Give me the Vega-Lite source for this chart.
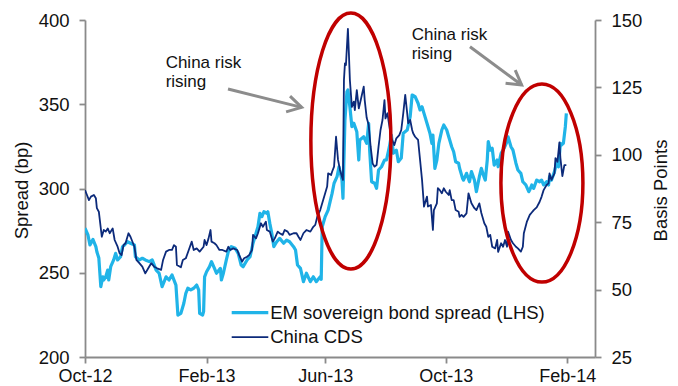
{
  "$schema": "https://vega.github.io/schema/vega-lite/v6.json",
  "width": 510,
  "height": 337,
  "autosize": {"type": "none"},
  "padding": {"left": 85, "top": 20, "right": 83, "bottom": 29},
  "background": "white",
  "config": {
    "font": "Liberation Sans",
    "view": {"stroke": null},
    "axis": {
      "grid": false,
      "domainColor": "#8a8a8a",
      "domainWidth": 1.8,
      "tickColor": "#8a8a8a",
      "tickWidth": 1.8,
      "tickSize": 6,
      "offset": 0,
      "labelColor": "#111111",
      "labelFont": "Liberation Sans",
      "labelFontSize": 18.5,
      "titleColor": "#111111",
      "titleFont": "Liberation Sans",
      "titleFontSize": 18.5,
      "titleFontWeight": "normal",
      "labelOverlap": false,
      "labelFlush": false,
      "labelBound": false
    }
  },
  "datasets": {
    "em": [
      {"date": "2012-10-01", "em": 276.4},
      {"date": "2012-10-04", "em": 272.4},
      {"date": "2012-10-06", "em": 266.5},
      {"date": "2012-10-09", "em": 269.8},
      {"date": "2012-10-12", "em": 265.5},
      {"date": "2012-10-13", "em": 262.5},
      {"date": "2012-10-15", "em": 258.7},
      {"date": "2012-10-17", "em": 241.7},
      {"date": "2012-10-19", "em": 247.6},
      {"date": "2012-10-20", "em": 245.7},
      {"date": "2012-10-22", "em": 247.6},
      {"date": "2012-10-24", "em": 251.6},
      {"date": "2012-10-25", "em": 245.7},
      {"date": "2012-10-27", "em": 253.6},
      {"date": "2012-10-30", "em": 257.6},
      {"date": "2012-11-01", "em": 261.5},
      {"date": "2012-11-03", "em": 257.6},
      {"date": "2012-11-06", "em": 259.5},
      {"date": "2012-11-08", "em": 265.5},
      {"date": "2012-11-10", "em": 266.5},
      {"date": "2012-11-13", "em": 268.4},
      {"date": "2012-11-16", "em": 267.5},
      {"date": "2012-11-20", "em": 266.5},
      {"date": "2012-11-21", "em": 259.5},
      {"date": "2012-11-25", "em": 257.6},
      {"date": "2012-11-28", "em": 258.6},
      {"date": "2012-12-01", "em": 257.6},
      {"date": "2012-12-05", "em": 256.6},
      {"date": "2012-12-08", "em": 257.6},
      {"date": "2012-12-12", "em": 251.6},
      {"date": "2012-12-15", "em": 249.7},
      {"date": "2012-12-18", "em": 241.7},
      {"date": "2012-12-22", "em": 247.6},
      {"date": "2012-12-25", "em": 245.7},
      {"date": "2012-12-28", "em": 248.7},
      {"date": "2013-01-01", "em": 242.7},
      {"date": "2013-01-03", "em": 224.9},
      {"date": "2013-01-06", "em": 225.9},
      {"date": "2013-01-09", "em": 231.9},
      {"date": "2013-01-11", "em": 237.8},
      {"date": "2013-01-13", "em": 240.8},
      {"date": "2013-01-16", "em": 239.8},
      {"date": "2013-01-19", "em": 240.8},
      {"date": "2013-01-22", "em": 242.7},
      {"date": "2013-01-24", "em": 239.8},
      {"date": "2013-01-25", "em": 225.9},
      {"date": "2013-01-28", "em": 224.9},
      {"date": "2013-01-29", "em": 226.9},
      {"date": "2013-01-30", "em": 247.6},
      {"date": "2013-02-01", "em": 250.6},
      {"date": "2013-02-04", "em": 253.6},
      {"date": "2013-02-06", "em": 256.6},
      {"date": "2013-02-09", "em": 252.6},
      {"date": "2013-02-11", "em": 249.7},
      {"date": "2013-02-15", "em": 252.6},
      {"date": "2013-02-16", "em": 245.7},
      {"date": "2013-02-18", "em": 249.7},
      {"date": "2013-02-21", "em": 257.6},
      {"date": "2013-02-23", "em": 262.5},
      {"date": "2013-02-26", "em": 265.5},
      {"date": "2013-03-02", "em": 264.5},
      {"date": "2013-03-05", "em": 261.5},
      {"date": "2013-03-08", "em": 254.6},
      {"date": "2013-03-10", "em": 253.6},
      {"date": "2013-03-14", "em": 257.6},
      {"date": "2013-03-17", "em": 259.5},
      {"date": "2013-03-20", "em": 267.5},
      {"date": "2013-03-24", "em": 275.4},
      {"date": "2013-03-25", "em": 277.3},
      {"date": "2013-03-27", "em": 285.3},
      {"date": "2013-03-29", "em": 283.3},
      {"date": "2013-03-31", "em": 286.2},
      {"date": "2013-04-03", "em": 285.3},
      {"date": "2013-04-04", "em": 286.2},
      {"date": "2013-04-06", "em": 279.3},
      {"date": "2013-04-08", "em": 273.4},
      {"date": "2013-04-10", "em": 265.5},
      {"date": "2013-04-13", "em": 268.4},
      {"date": "2013-04-16", "em": 270.4},
      {"date": "2013-04-20", "em": 267.5},
      {"date": "2013-04-23", "em": 269.4},
      {"date": "2013-04-26", "em": 268.4},
      {"date": "2013-04-30", "em": 265.5},
      {"date": "2013-05-02", "em": 263.5},
      {"date": "2013-05-04", "em": 254.6},
      {"date": "2013-05-07", "em": 252.6},
      {"date": "2013-05-10", "em": 244.7},
      {"date": "2013-05-13", "em": 249.7},
      {"date": "2013-05-17", "em": 244.7},
      {"date": "2013-05-20", "em": 247.6},
      {"date": "2013-05-23", "em": 244.7},
      {"date": "2013-05-27", "em": 247.6},
      {"date": "2013-05-28", "em": 246.1},
      {"date": "2013-05-29", "em": 277.3},
      {"date": "2013-06-01", "em": 283.3},
      {"date": "2013-06-04", "em": 287.2},
      {"date": "2013-06-06", "em": 292.2},
      {"date": "2013-06-08", "em": 297.1},
      {"date": "2013-06-10", "em": 303.1},
      {"date": "2013-06-13", "em": 307.0},
      {"date": "2013-06-15", "em": 312.9},
      {"date": "2013-06-18", "em": 305.0},
      {"date": "2013-06-19", "em": 294.2},
      {"date": "2013-06-21", "em": 340.6},
      {"date": "2013-06-23", "em": 357.4},
      {"date": "2013-06-24", "em": 358.5},
      {"date": "2013-06-26", "em": 348.5},
      {"date": "2013-06-28", "em": 336.7},
      {"date": "2013-06-30", "em": 338.7},
      {"date": "2013-07-03", "em": 333.7},
      {"date": "2013-07-05", "em": 316.9},
      {"date": "2013-07-06", "em": 328.8},
      {"date": "2013-07-10", "em": 330.7},
      {"date": "2013-07-13", "em": 326.8},
      {"date": "2013-07-15", "em": 338.7},
      {"date": "2013-07-16", "em": 322.8},
      {"date": "2013-07-18", "em": 304.0},
      {"date": "2013-07-21", "em": 303.1},
      {"date": "2013-07-23", "em": 300.1},
      {"date": "2013-07-25", "em": 311.0},
      {"date": "2013-07-28", "em": 312.9},
      {"date": "2013-07-31", "em": 316.9},
      {"date": "2013-08-02", "em": 316.9},
      {"date": "2013-08-05", "em": 324.8},
      {"date": "2013-08-07", "em": 331.7},
      {"date": "2013-08-09", "em": 320.9},
      {"date": "2013-08-12", "em": 322.8},
      {"date": "2013-08-14", "em": 315.9},
      {"date": "2013-08-17", "em": 318.1},
      {"date": "2013-08-19", "em": 332.8},
      {"date": "2013-08-23", "em": 334.7},
      {"date": "2013-08-26", "em": 342.6},
      {"date": "2013-08-28", "em": 355.5},
      {"date": "2013-08-31", "em": 354.5},
      {"date": "2013-09-03", "em": 350.6},
      {"date": "2013-09-05", "em": 346.6},
      {"date": "2013-09-07", "em": 348.5},
      {"date": "2013-09-09", "em": 344.6},
      {"date": "2013-09-12", "em": 338.7},
      {"date": "2013-09-15", "em": 332.8},
      {"date": "2013-09-17", "em": 326.8},
      {"date": "2013-09-18", "em": 331.7},
      {"date": "2013-09-20", "em": 312.0},
      {"date": "2013-09-22", "em": 316.9},
      {"date": "2013-09-24", "em": 326.8},
      {"date": "2013-09-27", "em": 334.7},
      {"date": "2013-09-29", "em": 337.7},
      {"date": "2013-10-02", "em": 334.7},
      {"date": "2013-10-04", "em": 330.7},
      {"date": "2013-10-05", "em": 328.8},
      {"date": "2013-10-07", "em": 324.8},
      {"date": "2013-10-09", "em": 321.8},
      {"date": "2013-10-11", "em": 315.9},
      {"date": "2013-10-14", "em": 315.0},
      {"date": "2013-10-15", "em": 312.0},
      {"date": "2013-10-18", "em": 306.0},
      {"date": "2013-10-19", "em": 305.0},
      {"date": "2013-10-22", "em": 309.0},
      {"date": "2013-10-25", "em": 304.0},
      {"date": "2013-10-27", "em": 310.0},
      {"date": "2013-10-30", "em": 305.0},
      {"date": "2013-11-01", "em": 298.1},
      {"date": "2013-11-04", "em": 307.0},
      {"date": "2013-11-06", "em": 312.0},
      {"date": "2013-11-08", "em": 308.0},
      {"date": "2013-11-10", "em": 305.0},
      {"date": "2013-11-12", "em": 316.9},
      {"date": "2013-11-13", "em": 327.8},
      {"date": "2013-11-15", "em": 322.8},
      {"date": "2013-11-17", "em": 323.9},
      {"date": "2013-11-19", "em": 313.9},
      {"date": "2013-11-22", "em": 316.9},
      {"date": "2013-11-23", "em": 312.9},
      {"date": "2013-11-26", "em": 320.9},
      {"date": "2013-11-29", "em": 323.9},
      {"date": "2013-12-02", "em": 327.8},
      {"date": "2013-12-03", "em": 330.7},
      {"date": "2013-12-06", "em": 324.8},
      {"date": "2013-12-08", "em": 322.8},
      {"date": "2013-12-11", "em": 315.0},
      {"date": "2013-12-13", "em": 311.0},
      {"date": "2013-12-16", "em": 309.0},
      {"date": "2013-12-18", "em": 304.0},
      {"date": "2013-12-21", "em": 302.1},
      {"date": "2013-12-24", "em": 298.1},
      {"date": "2013-12-25", "em": 299.1},
      {"date": "2013-12-27", "em": 302.1},
      {"date": "2013-12-29", "em": 300.1},
      {"date": "2014-01-01", "em": 305.0},
      {"date": "2014-01-04", "em": 304.0},
      {"date": "2014-01-06", "em": 305.0},
      {"date": "2014-01-08", "em": 302.1},
      {"date": "2014-01-11", "em": 304.0},
      {"date": "2014-01-13", "em": 302.1},
      {"date": "2014-01-14", "em": 307.0},
      {"date": "2014-01-16", "em": 305.0},
      {"date": "2014-01-19", "em": 310.0},
      {"date": "2014-01-21", "em": 315.0},
      {"date": "2014-01-23", "em": 312.9},
      {"date": "2014-01-25", "em": 326.8},
      {"date": "2014-01-26", "em": 325.8},
      {"date": "2014-01-28", "em": 326.8},
      {"date": "2014-01-30", "em": 336.7},
      {"date": "2014-01-31", "em": 344.6}
    ],
    "cds": [
      {"date": "2012-10-01", "cds": 86.9},
      {"date": "2012-10-03", "cds": 85.1},
      {"date": "2012-10-05", "cds": 83.2},
      {"date": "2012-10-07", "cds": 84.5},
      {"date": "2012-10-10", "cds": 85.1},
      {"date": "2012-10-12", "cds": 83.9},
      {"date": "2012-10-13", "cds": 80.2},
      {"date": "2012-10-15", "cds": 78.9},
      {"date": "2012-10-18", "cds": 69.6},
      {"date": "2012-10-20", "cds": 72.1},
      {"date": "2012-10-22", "cds": 71.5},
      {"date": "2012-10-24", "cds": 72.7},
      {"date": "2012-10-26", "cds": 70.9},
      {"date": "2012-10-29", "cds": 72.7},
      {"date": "2012-10-31", "cds": 68.4},
      {"date": "2012-11-03", "cds": 65.9},
      {"date": "2012-11-05", "cds": 63.5},
      {"date": "2012-11-07", "cds": 62.8},
      {"date": "2012-11-09", "cds": 66.5},
      {"date": "2012-11-11", "cds": 67.2},
      {"date": "2012-11-14", "cds": 70.9},
      {"date": "2012-11-16", "cds": 69.6},
      {"date": "2012-11-20", "cds": 65.9},
      {"date": "2012-11-22", "cds": 61.0},
      {"date": "2012-11-25", "cds": 59.8},
      {"date": "2012-11-28", "cds": 58.5},
      {"date": "2012-12-01", "cds": 56.0},
      {"date": "2012-12-04", "cds": 57.9},
      {"date": "2012-12-07", "cds": 59.8},
      {"date": "2012-12-10", "cds": 58.5},
      {"date": "2012-12-13", "cds": 57.9},
      {"date": "2012-12-17", "cds": 57.3},
      {"date": "2012-12-19", "cds": 61.0},
      {"date": "2012-12-22", "cds": 64.1},
      {"date": "2012-12-25", "cds": 64.7},
      {"date": "2012-12-28", "cds": 64.7},
      {"date": "2012-12-30", "cds": 66.5},
      {"date": "2013-01-01", "cds": 65.9},
      {"date": "2013-01-02", "cds": 59.1},
      {"date": "2013-01-06", "cds": 58.3},
      {"date": "2013-01-08", "cds": 61.0},
      {"date": "2013-01-11", "cds": 61.6},
      {"date": "2013-01-14", "cds": 64.7},
      {"date": "2013-01-17", "cds": 67.8},
      {"date": "2013-01-19", "cds": 64.7},
      {"date": "2013-01-22", "cds": 65.3},
      {"date": "2013-01-25", "cds": 64.1},
      {"date": "2013-01-29", "cds": 65.9},
      {"date": "2013-01-30", "cds": 68.4},
      {"date": "2013-02-01", "cds": 66.5},
      {"date": "2013-02-03", "cds": 69.0},
      {"date": "2013-02-05", "cds": 72.1},
      {"date": "2013-02-06", "cds": 67.8},
      {"date": "2013-02-09", "cds": 67.2},
      {"date": "2013-02-11", "cds": 66.5},
      {"date": "2013-02-14", "cds": 64.7},
      {"date": "2013-02-17", "cds": 64.7},
      {"date": "2013-02-21", "cds": 64.1},
      {"date": "2013-02-23", "cds": 65.9},
      {"date": "2013-02-25", "cds": 64.7},
      {"date": "2013-02-28", "cds": 65.3},
      {"date": "2013-03-04", "cds": 64.7},
      {"date": "2013-03-06", "cds": 62.8},
      {"date": "2013-03-09", "cds": 60.4},
      {"date": "2013-03-11", "cds": 61.6},
      {"date": "2013-03-14", "cds": 62.2},
      {"date": "2013-03-16", "cds": 62.8},
      {"date": "2013-03-19", "cds": 64.7},
      {"date": "2013-03-20", "cds": 70.3},
      {"date": "2013-03-23", "cds": 69.0},
      {"date": "2013-03-25", "cds": 70.9},
      {"date": "2013-03-28", "cds": 74.6},
      {"date": "2013-03-30", "cds": 73.3},
      {"date": "2013-04-02", "cds": 75.2},
      {"date": "2013-04-03", "cds": 72.1},
      {"date": "2013-04-06", "cds": 71.5},
      {"date": "2013-04-09", "cds": 67.8},
      {"date": "2013-04-11", "cds": 69.0},
      {"date": "2013-04-14", "cds": 71.5},
      {"date": "2013-04-16", "cds": 70.9},
      {"date": "2013-04-19", "cds": 70.3},
      {"date": "2013-04-21", "cds": 72.1},
      {"date": "2013-04-24", "cds": 71.5},
      {"date": "2013-04-26", "cds": 70.3},
      {"date": "2013-04-30", "cds": 70.9},
      {"date": "2013-05-03", "cds": 70.9},
      {"date": "2013-05-05", "cds": 69.6},
      {"date": "2013-05-07", "cds": 68.4},
      {"date": "2013-05-10", "cds": 70.9},
      {"date": "2013-05-13", "cds": 72.1},
      {"date": "2013-05-17", "cds": 71.5},
      {"date": "2013-05-20", "cds": 73.3},
      {"date": "2013-05-22", "cds": 74.0},
      {"date": "2013-05-24", "cds": 77.0},
      {"date": "2013-05-27", "cds": 79.5},
      {"date": "2013-05-29", "cds": 82.0},
      {"date": "2013-06-01", "cds": 85.7},
      {"date": "2013-06-03", "cds": 88.2},
      {"date": "2013-06-04", "cds": 93.1},
      {"date": "2013-06-07", "cds": 92.5},
      {"date": "2013-06-08", "cds": 93.7},
      {"date": "2013-06-10", "cds": 95.6},
      {"date": "2013-06-12", "cds": 106.7},
      {"date": "2013-06-14", "cds": 98.1},
      {"date": "2013-06-16", "cds": 94.4},
      {"date": "2013-06-18", "cds": 91.9},
      {"date": "2013-06-19", "cds": 90.7},
      {"date": "2013-06-20", "cds": 127.7},
      {"date": "2013-06-21", "cds": 133.9},
      {"date": "2013-06-22", "cds": 133.3},
      {"date": "2013-06-24", "cds": 146.7},
      {"date": "2013-06-25", "cds": 137.6},
      {"date": "2013-06-26", "cds": 127.7},
      {"date": "2013-06-28", "cds": 117.8},
      {"date": "2013-06-30", "cds": 119.7},
      {"date": "2013-07-01", "cds": 116.6},
      {"date": "2013-07-03", "cds": 124.0},
      {"date": "2013-07-05", "cds": 117.2},
      {"date": "2013-07-07", "cds": 120.3},
      {"date": "2013-07-10", "cds": 125.3},
      {"date": "2013-07-11", "cds": 120.3},
      {"date": "2013-07-13", "cds": 113.7},
      {"date": "2013-07-15", "cds": 111.1},
      {"date": "2013-07-17", "cds": 103.0},
      {"date": "2013-07-19", "cds": 96.8},
      {"date": "2013-07-21", "cds": 95.6},
      {"date": "2013-07-23", "cds": 96.2},
      {"date": "2013-07-25", "cds": 103.0},
      {"date": "2013-07-27", "cds": 109.2},
      {"date": "2013-07-29", "cds": 112.9},
      {"date": "2013-07-31", "cds": 120.3},
      {"date": "2013-08-01", "cds": 113.5},
      {"date": "2013-08-03", "cds": 115.4},
      {"date": "2013-08-06", "cds": 108.0},
      {"date": "2013-08-07", "cds": 106.1},
      {"date": "2013-08-10", "cds": 103.6},
      {"date": "2013-08-12", "cds": 106.1},
      {"date": "2013-08-15", "cds": 107.3},
      {"date": "2013-08-17", "cds": 109.2},
      {"date": "2013-08-19", "cds": 115.4},
      {"date": "2013-08-21", "cds": 122.2},
      {"date": "2013-08-23", "cds": 115.4},
      {"date": "2013-08-24", "cds": 111.7},
      {"date": "2013-08-26", "cds": 112.9},
      {"date": "2013-08-28", "cds": 109.2},
      {"date": "2013-08-29", "cds": 108.0},
      {"date": "2013-08-31", "cds": 106.7},
      {"date": "2013-09-03", "cds": 105.5},
      {"date": "2013-09-05", "cds": 98.1},
      {"date": "2013-09-07", "cds": 90.7},
      {"date": "2013-09-09", "cds": 80.8},
      {"date": "2013-09-12", "cds": 84.5},
      {"date": "2013-09-13", "cds": 80.8},
      {"date": "2013-09-16", "cds": 81.4},
      {"date": "2013-09-18", "cds": 72.1},
      {"date": "2013-09-19", "cds": 79.5},
      {"date": "2013-09-22", "cds": 82.0},
      {"date": "2013-09-23", "cds": 87.6},
      {"date": "2013-09-25", "cds": 86.9},
      {"date": "2013-09-27", "cds": 85.7},
      {"date": "2013-09-29", "cds": 87.6},
      {"date": "2013-10-01", "cds": 86.3},
      {"date": "2013-10-04", "cds": 85.1},
      {"date": "2013-10-05", "cds": 86.9},
      {"date": "2013-10-07", "cds": 83.2},
      {"date": "2013-10-09", "cds": 83.2},
      {"date": "2013-10-11", "cds": 79.5},
      {"date": "2013-10-14", "cds": 78.9},
      {"date": "2013-10-15", "cds": 77.0},
      {"date": "2013-10-17", "cds": 77.7},
      {"date": "2013-10-19", "cds": 77.0},
      {"date": "2013-10-22", "cds": 78.3},
      {"date": "2013-10-24", "cds": 85.7},
      {"date": "2013-10-26", "cds": 83.2},
      {"date": "2013-10-27", "cds": 82.0},
      {"date": "2013-10-30", "cds": 80.2},
      {"date": "2013-11-01", "cds": 79.5},
      {"date": "2013-11-04", "cds": 82.0},
      {"date": "2013-11-06", "cds": 78.4},
      {"date": "2013-11-09", "cds": 74.6},
      {"date": "2013-11-11", "cds": 73.3},
      {"date": "2013-11-13", "cds": 69.6},
      {"date": "2013-11-15", "cds": 70.3},
      {"date": "2013-11-17", "cds": 65.9},
      {"date": "2013-11-20", "cds": 65.3},
      {"date": "2013-11-22", "cds": 68.4},
      {"date": "2013-11-23", "cds": 64.0},
      {"date": "2013-11-26", "cds": 67.2},
      {"date": "2013-11-28", "cds": 65.9},
      {"date": "2013-11-30", "cds": 68.4},
      {"date": "2013-12-02", "cds": 65.9},
      {"date": "2013-12-03", "cds": 71.5},
      {"date": "2013-12-06", "cds": 68.4},
      {"date": "2013-12-08", "cds": 67.2},
      {"date": "2013-12-11", "cds": 65.9},
      {"date": "2013-12-13", "cds": 65.3},
      {"date": "2013-12-16", "cds": 64.1},
      {"date": "2013-12-18", "cds": 65.9},
      {"date": "2013-12-19", "cds": 70.9},
      {"date": "2013-12-22", "cds": 75.1},
      {"date": "2013-12-25", "cds": 77.7},
      {"date": "2013-12-27", "cds": 78.6},
      {"date": "2013-12-29", "cds": 79.5},
      {"date": "2014-01-01", "cds": 80.5},
      {"date": "2014-01-04", "cds": 82.6},
      {"date": "2014-01-06", "cds": 84.5},
      {"date": "2014-01-08", "cds": 86.9},
      {"date": "2014-01-11", "cds": 88.8},
      {"date": "2014-01-13", "cds": 89.4},
      {"date": "2014-01-14", "cds": 93.1},
      {"date": "2014-01-16", "cds": 90.7},
      {"date": "2014-01-19", "cds": 93.1},
      {"date": "2014-01-20", "cds": 98.8},
      {"date": "2014-01-22", "cds": 97.4},
      {"date": "2014-01-24", "cds": 104.6},
      {"date": "2014-01-25", "cds": 98.8},
      {"date": "2014-01-27", "cds": 92.1},
      {"date": "2014-01-29", "cds": 96.2},
      {"date": "2014-01-31", "cds": 96.2}
    ],
    "ellipse1": [{"date": "2013-06-27T00:00:00Z", "cds": 105.1}],
    "ellipse2": [{"date": "2014-01-06T07:00:00Z", "cds": 89.5}],
    "arrows": [
      {"id": 1, "date": "2013-02-22T17:00:00Z", "cds": 124.4, "date2": "2013-05-08T05:00:00Z", "cds2": 117.6},
      {"id": 2, "date": "2013-10-25T12:00:00Z", "cds": 140.1, "date2": "2013-12-16T19:00:00Z", "cds2": 125.9}
    ],
    "notes": [
      {"date": "2012-12-21T14:00:00Z", "cds": 132.1, "label": "China risk\nrising"},
      {"date": "2013-08-27T12:00:00Z", "cds": 142.6, "label": "China risk\nrising"}
    ]
  },
  "layer": [
    {
      "data": {"name": "em"},
      "mark": {"type": "line", "strokeWidth": 3.2, "strokeJoin": "round", "clip": true},
      "encoding": {
        "x": {
          "field": "date",
          "type": "temporal",
          "scale": {
            "type": "utc",
            "nice": false,
            "domain": [
              {"year": 2012, "month": 10, "date": 1, "utc": true},
              {"year": 2014, "month": 3, "date": 1, "utc": true}
            ]
          },
          "axis": {
            "orient": "bottom",
            "title": null,
            "values": [
              {"year": 2012, "month": 10, "date": 1, "utc": true},
              {"year": 2013, "month": 2, "date": 1, "utc": true},
              {"year": 2013, "month": 6, "date": 1, "utc": true},
              {"year": 2013, "month": 10, "date": 1, "utc": true},
              {"year": 2014, "month": 2, "date": 1, "utc": true}
            ],
            "labelExpr": "utcFormat(datum.value, '%b-%y')",
            "labelFontSize": 18,
            "labelPadding": 4
          }
        },
        "y": {
          "field": "em",
          "type": "quantitative",
          "scale": {"domain": [200, 400], "nice": false, "zero": false},
          "axis": {
            "orient": "left",
            "values": [200, 250, 300, 350, 400],
            "title": "Spread (bp)",
            "labelPadding": 10,
            "titleAngle": 270,
            "titleAlign": "center",
            "titleBaseline": "middle",
            "titleX": -64,
            "titleY": 170
          }
        },
        "color": {
          "datum": "EM sovereign bond spread (LHS)",
          "type": "nominal",
          "scale": {
            "domain": ["EM sovereign bond spread (LHS)", "China CDS"],
            "range": ["#20B4E8", "#0C2A7A"]
          },
          "legend": {
            "orient": "none",
            "legendX": 155.75,
            "legendY": 283.45,
            "title": null,
            "direction": "vertical",
            "padding": 0,
            "symbolType": "M -3.66 0 L 3.66 0",
            "symbolSize": 100,
            "symbolStrokeWidth": 3,
            "symbolOffset": 0,
            "labelOffset": 10.95,
            "rowPadding": 5.5,
            "labelFontSize": 18.5,
            "labelFont": "Liberation Sans",
            "labelColor": "#111111",
            "labelLimit": 400,
            "labelBaseline": "middle",
            "encode": {
              "symbols": {
                "update": {
                  "strokeWidth": {"signal": "datum.value === 'China CDS' ? 1.8 : 3.2"}
                }
              }
            }
          }
        }
      }
    },
    {
      "layer": [
        {
          "data": {"name": "cds"},
          "mark": {"type": "line", "strokeWidth": 1.8, "strokeJoin": "round", "clip": true},
          "encoding": {
            "x": {"field": "date", "type": "temporal"},
            "y": {
              "field": "cds",
              "type": "quantitative",
              "scale": {"domain": [25, 150], "nice": false, "zero": false},
              "axis": {
                "orient": "right",
                "values": [25, 50, 75, 100, 125, 150],
                "title": "Basis Points",
                "labelPadding": 10,
                "titleAngle": 270,
                "titleAlign": "center",
                "titleBaseline": "middle",
                "titleX": 65,
                "titleY": 170
              }
            },
            "color": {"datum": "China CDS", "type": "nominal"}
          }
        },
        {
          "data": {"name": "ellipse1"},
          "mark": {
            "type": "point",
            "shape": "M 0.3125 0 C 0.3125 0.5523 0.1726 1 0 1 C -0.1726 1 -0.3125 0.5523 -0.3125 0 C -0.3125 -0.5523 -0.1726 -1 0 -1 C 0.1726 -1 0.3125 -0.5523 0.3125 0 Z",
            "size": 65536,
            "filled": false,
            "stroke": "#C00000",
            "strokeWidth": 3.5,
            "opacity": 1
          },
          "encoding": {
            "x": {"field": "date", "type": "temporal"},
            "y": {"field": "cds", "type": "quantitative"}
          }
        },
        {
          "data": {"name": "ellipse2"},
          "mark": {
            "type": "point",
            "shape": "M 0.4141 0 C 0.4141 0.5523 0.2287 1 0 1 C -0.2287 1 -0.4141 0.5523 -0.4141 0 C -0.4141 -0.5523 -0.2287 -1 0 -1 C 0.2287 -1 0.4141 -0.5523 0.4141 0 Z",
            "size": 39204,
            "filled": false,
            "stroke": "#C00000",
            "strokeWidth": 3.5,
            "opacity": 1
          },
          "encoding": {
            "x": {"field": "date", "type": "temporal"},
            "y": {"field": "cds", "type": "quantitative"}
          }
        },
        {
          "data": {"name": "arrows"},
          "mark": {"type": "rule", "color": "#8C8C8C", "strokeWidth": 3},
          "encoding": {
            "x": {"field": "date", "type": "temporal"},
            "y": {"field": "cds", "type": "quantitative"},
            "x2": {"field": "date2"},
            "y2": {"field": "cds2"}
          }
        },
        {
          "data": {"name": "arrows"},
          "transform": [{"filter": "datum.id === 1"}],
          "mark": {
            "type": "point",
            "shape": "M -1 -0.58 L 0 0 L -1 0.58",
            "size": 784,
            "filled": false,
            "stroke": "#8C8C8C",
            "strokeWidth": 3,
            "opacity": 1,
            "angle": 14
          },
          "encoding": {
            "x": {"field": "date2", "type": "temporal"},
            "y": {"field": "cds2", "type": "quantitative"}
          }
        },
        {
          "data": {"name": "arrows"},
          "transform": [{"filter": "datum.id === 2"}],
          "mark": {
            "type": "point",
            "shape": "M -1 -0.58 L 0 0 L -1 0.58",
            "size": 784,
            "filled": false,
            "stroke": "#8C8C8C",
            "strokeWidth": 3,
            "opacity": 1,
            "angle": 36.5
          },
          "encoding": {
            "x": {"field": "date2", "type": "temporal"},
            "y": {"field": "cds2", "type": "quantitative"}
          }
        },
        {
          "data": {"name": "notes"},
          "mark": {
            "type": "text",
            "align": "left",
            "baseline": "alphabetic",
            "fontSize": 17,
            "lineHeight": 19,
            "lineBreak": "\n",
            "font": "Liberation Sans",
            "color": "#111111"
          },
          "encoding": {
            "x": {"field": "date", "type": "temporal"},
            "y": {"field": "cds", "type": "quantitative"},
            "text": {"field": "label"}
          }
        }
      ]
    }
  ],
  "resolve": {"scale": {"y": "independent"}}
}
